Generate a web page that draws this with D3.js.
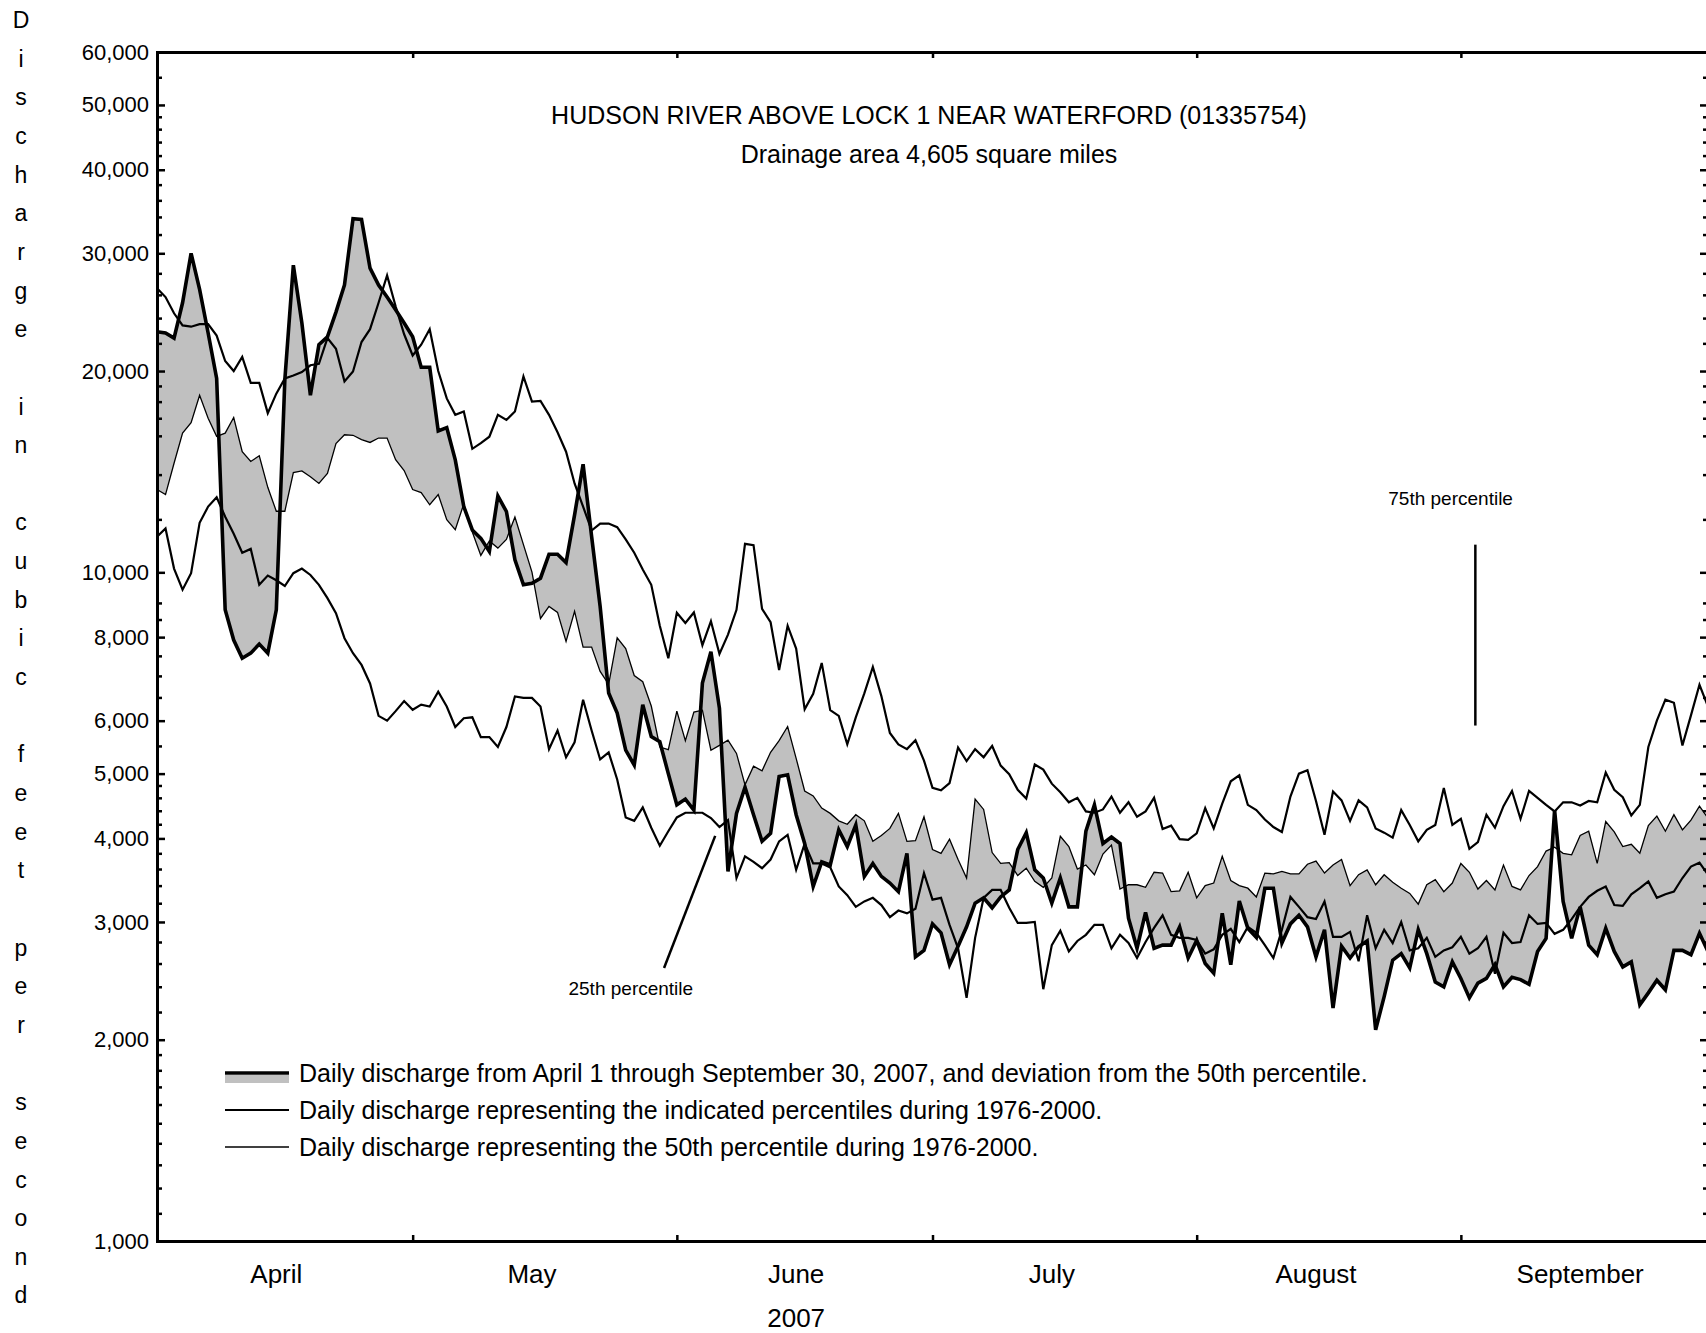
<!DOCTYPE html>
<html>
<head>
<meta charset="utf-8">
<script src="https://cdn.jsdelivr.net/npm/d3@7"></script>
<style>
    body { margin: 0; background: #fff; }
    text { font-family: "Liberation Sans", Arial, sans-serif; fill: #000; }
</style>
</head>
<body>
<div id="plot"></div>
<script>
// Daily discharge, cfs, April 1 - September 30 (183 days)
let q2007 = [
    22900, 22800, 22400, 25300, 30000, 26500, 22800, 19500, 8790, 7920,
    7440, 7570, 7810, 7570, 8790, 19400, 28800, 23600, 18400, 21900,
    22500, 24500, 26900, 33800, 33700, 28500, 26900, 25800, 24700, 23600,
    22500, 20260, 20260, 16270, 16460, 14730, 12540, 11570, 11240, 10740,
    13010, 12330, 10440, 9580, 9630, 9800, 10640, 10640, 10340, 12190,
    14510, 11310, 8890, 6600, 6160, 5420, 5150, 6340, 5680, 5580,
    5000, 4490, 4580, 4410, 6830, 7610, 6260, 3570, 4360, 4770,
    4340, 3960, 4070, 4950, 4980, 4340, 3930, 3390, 3690, 3650,
    4120, 3890, 4190, 3510, 3670, 3510, 3430, 3330, 3800, 2660,
    2720, 2980, 2890, 2590, 2760, 2950, 3200, 3260, 3150, 3270,
    3350, 3850, 4080, 3590, 3490, 3200, 3490, 3160, 3160, 4100,
    4490, 3930, 4020, 3930, 3040, 2740, 3100, 2740, 2770, 2770,
    2950, 2650, 2815, 2600, 2515, 3090, 2590, 3225, 2935, 2845,
    3370, 3370, 2790, 2980, 3070, 2950, 2660, 2920, 2230, 2760,
    2650, 2755, 2810, 2070, 2320, 2630, 2690, 2560, 2920, 2690,
    2440, 2400, 2615, 2470, 2310, 2430, 2470, 2590, 2400, 2480,
    2460, 2420, 2710, 2835, 4410, 3220, 2835, 3160, 2770, 2680,
    2935, 2710, 2570, 2615, 2255, 2350, 2455, 2375, 2720, 2720,
    2680, 2885, 2710
];

let q50 = [
    13300, 13070, 14560, 16150, 16740, 18400, 17000, 15970, 16150, 17040,
    15150, 14650, 14940, 13400, 12340, 12340, 14100, 14180, 13900, 13580,
    14060, 15580, 16060, 16030, 15790, 15640, 15880, 15880, 14740, 14200,
    13300, 13160, 12620, 13070, 11990, 11580, 12660, 11490, 10600, 11140,
    10870, 11200, 12100, 11000, 10010, 8530, 8890, 8710, 7880, 8740,
    7730, 7730, 7110, 6800, 7980, 7690, 7010, 6860, 6310, 5480,
    5430, 6200, 5600, 6180, 6220, 5420, 5510, 5610, 5360, 4810,
    5130, 5050, 5380, 5600, 5880, 5270, 4710, 4630, 4440, 4360,
    4250, 4200, 4340, 4250, 3960, 4040, 4140, 4360, 3960, 3970,
    4310, 3850, 3800, 3990, 3720, 3490, 4580, 4420, 3810, 3670,
    3680, 3520, 3610, 3450, 3380, 3490, 4030, 3890, 3600, 3650,
    3530, 3790, 3910, 3360, 3410, 3410, 3380, 3560, 3550, 3330,
    3340, 3560, 3260, 3400, 3430, 3760, 3460, 3400, 3370, 3270,
    3550, 3540, 3570, 3540, 3540, 3660, 3700, 3550, 3650, 3720,
    3400, 3530, 3590, 3410, 3530, 3440, 3370, 3310, 3190, 3410,
    3470, 3330, 3430, 3670, 3560, 3360, 3460, 3350, 3650, 3390,
    3350, 3520, 3630, 3830, 3880, 3800, 3780, 4040, 4100, 3670,
    4240, 4090, 3890, 3920, 3800, 4180, 4320, 4100, 4340, 4120,
    4260, 4470, 4290
];

let q75 = [
    26600, 25800, 24400, 23400, 23300, 23500, 23500, 22600, 20700, 20000,
    21000, 19200, 19200, 17300, 18500, 19500, 19700, 19930, 20400, 20500,
    22400, 21600, 19300, 19970, 22100, 23100, 25300, 27800, 25000, 22700,
    21100, 21900, 23100, 20000, 18200, 17200, 17400, 15300, 15600, 15950,
    17200, 16900, 17400, 19630, 18000, 18040, 17200, 16200, 15150, 13580,
    12540, 11550, 11830, 11830, 11680, 11200, 10700, 10100, 9580, 8320,
    7440, 8700, 8400, 8710, 7780, 8450, 7550, 8070, 8790, 11030,
    10980, 8820, 8420, 7140, 8320, 7690, 6240, 6580, 7320, 6220,
    6100, 5530, 6070, 6590, 7220, 6530, 5750, 5530, 5440, 5610,
    5230, 4760, 4720, 4840, 5470, 5220, 5440, 5290, 5500, 5140,
    4990, 4730, 4590, 5160, 5070, 4830, 4690, 4530, 4600, 4390,
    4370, 4420, 4620, 4370, 4530, 4310, 4390, 4600, 4130, 4180,
    3990, 3980, 4070, 4440, 4140, 4510, 4870, 4970, 4490, 4410,
    4270, 4160, 4090, 4620, 5000, 5060, 4550, 4050, 4700, 4560,
    4250, 4560, 4450, 4140, 4080, 4010, 4410, 4190, 3960, 4120,
    4190, 4760, 4190, 4280, 3860, 3950, 4340, 4150, 4470, 4710,
    4280, 4710, 4600, 4490, 4390, 4530, 4530, 4480, 4550, 4530,
    5020, 4730, 4610, 4330, 4490, 5480, 6000, 6450, 6380, 5510,
    6110, 6790, 6300
];

let q25 = [
    11300, 11630, 10130, 9420, 9970, 11860, 12540, 12950, 12110, 11420,
    10700, 10840, 9580, 9890, 9730, 9540, 9970, 10130, 9910, 9580,
    9150, 8690, 7970, 7570, 7270, 6820, 6100, 6000, 6200, 6420,
    6230, 6340, 6300, 6630, 6300, 5870, 6050, 6070, 5670, 5670,
    5480, 5870, 6520, 6490, 6490, 6300, 5440, 5800, 5290, 5570,
    6450, 5800, 5250, 5380, 4900, 4300, 4250, 4450, 4150, 3900,
    4100, 4300, 4370, 4370, 4370, 4290, 4160, 4260, 3490, 3760,
    3690, 3610, 3720, 3960, 4050, 3590, 3930, 3670, 3670, 3620,
    3390, 3290, 3160, 3220, 3260, 3180, 3050, 3120, 3090, 3140,
    3550, 3240, 3260, 2970, 2740, 2310, 2840, 3260, 3350, 3350,
    3150, 2990, 2990, 3000, 2380, 2770, 2910, 2710, 2810, 2870,
    2970, 2970, 2740, 2870, 2790, 2650, 2800, 2940, 3070, 2870,
    2840, 2840, 2820, 2690, 2730, 2870, 2930, 2800, 2950, 2890,
    2770, 2650, 2920, 3270, 3160, 3050, 3030, 3220, 2850, 2850,
    2900, 2620, 3070, 2740, 2920, 2790, 3000, 2720, 2740, 2840,
    2660, 2720, 2750, 2850, 2690, 2740, 2850, 2510, 2890, 2790,
    2800, 3070, 2980, 2990, 2880, 2920, 3030, 3160, 3270, 3340,
    3390, 3180, 3170, 3300, 3370, 3450, 3260, 3300, 3330, 3490,
    3630, 3680, 3530
];

let monthNames = ['April', 'May', 'June', 'July', 'August', 'September'];
let yTickLabels = [1000, 2000, 3000, 4000, 5000, 6000, 8000, 10000, 20000, 30000, 40000, 50000, 60000];
let yMinorTicks = [1100, 1200, 1300, 1400, 1500, 1600, 1700, 1800, 1900,
    2200, 2400, 2600, 2800, 3200, 3400, 3600, 3800, 4200, 4400, 4600, 4800,
    5500, 6500, 7000, 7500, 8500, 9000, 12000, 14000, 16000, 17000, 18000, 19000,
    22000, 24000, 26000, 28000, 32000, 34000, 36000, 38000,
    42000, 44000, 46000, 48000, 55000];

let titleText = 'HUDSON RIVER ABOVE LOCK 1 NEAR WATERFORD (01335754)';
let subtitleText = 'Drainage area 4,605 square miles';
let yTitle = 'Discharge in cubic feet per second';
let legendLabels = [
    'Daily discharge from April 1 through September 30, 2007, and deviation from the 50th percentile.',
    'Daily discharge representing the indicated percentiles during 1976-2000.',
    'Daily discharge representing the 50th percentile during 1976-2000.'
];

let svgWidth = 1706;
let svgHeight = 1333;
let plot = { left: 157, right: 1708, top: 52, bottom: 1241 };

let startDate = new Date(2007, 3, 1);
let dayOf = d => d3.timeDay.count(startDate, d);

let $svg = d3.select('#plot')
    .append('svg')
    .attr('width', svgWidth)
    .attr('height', svgHeight)
    .style('background', '#fff');

// Scales: day index on x, log discharge on y
let xScale = d3.scaleLinear()
    .domain([0, q2007.length - 1])
    .range([plot.left, plot.right]);

let yScale = d3.scaleLog()
    .domain([1000, 60000])
    .range([plot.bottom, plot.top]);

let days = d3.range(q2007.length);

// Gray deviation band between 2007 flow and the median
let band = d3.area()
    .x(i => xScale(i))
    .y0(i => yScale(q50[i]))
    .y1(i => yScale(q2007[i]));

$svg.append('path')
    .datum(days)
    .attr('d', band)
    .attr('fill', '#c0c0c0');

let lineFor = series => d3.line()
    .x(i => xScale(i))
    .y(i => yScale(series[i]));

let seriesStyles = [
    { data: q50, width: 1.3 },
    { data: q25, width: 2.2 },
    { data: q75, width: 2.2 },
    { data: q2007, width: 3.6 }
];

seriesStyles.forEach(s => {
    $svg.append('path')
        .datum(days)
        .attr('d', lineFor(s.data))
        .attr('fill', 'none')
        .attr('stroke', '#000')
        .attr('stroke-width', s.width);
});

// Axes
let monthStarts = d3.timeMonth.range(new Date(2007, 4, 1), new Date(2007, 8, 2)).map(dayOf);
let monthMids = monthNames.map((m, k) => dayOf(new Date(2007, 3 + k, 15)));

function styleAxis(g) {
    g.select('.domain').attr('stroke-width', 3).attr('stroke-linecap', 'square');
    g.selectAll('.tick line').attr('stroke-width', 2.5);
    g.attr('font-family', '"Liberation Sans", Arial, sans-serif');
}

$svg.append('g')
    .attr('transform', `translate(${plot.left}, 0)`)
    .call(d3.axisLeft(yScale).tickValues(yTickLabels).tickSize(-8).tickSizeOuter(0)
        .tickPadding(8).tickFormat(d3.format(',')))
    .call(styleAxis)
    .attr('font-size', 22);

$svg.append('g')
    .attr('transform', `translate(${plot.left}, 0)`)
    .call(d3.axisLeft(yScale).tickValues(yMinorTicks).tickSize(-5).tickSizeOuter(0).tickFormat(''))
    .call(g => g.select('.domain').remove())
    .call(g => g.selectAll('.tick line').attr('stroke-width', 2.5));

$svg.append('g')
    .attr('transform', `translate(${plot.right}, 0)`)
    .call(d3.axisRight(yScale).tickValues(yTickLabels).tickSize(-8).tickSizeOuter(0).tickFormat(''))
    .call(styleAxis);

$svg.append('g')
    .attr('transform', `translate(${plot.right}, 0)`)
    .call(d3.axisRight(yScale).tickValues(yMinorTicks).tickSize(-5).tickSizeOuter(0).tickFormat(''))
    .call(g => g.select('.domain').remove())
    .call(g => g.selectAll('.tick line').attr('stroke-width', 2.5));

$svg.append('g')
    .attr('transform', `translate(0, ${plot.bottom})`)
    .call(d3.axisBottom(xScale).tickValues(monthStarts).tickSize(-6).tickSizeOuter(0).tickFormat(''))
    .call(styleAxis);

$svg.append('g')
    .attr('transform', `translate(0, ${plot.top})`)
    .call(d3.axisTop(xScale).tickValues(monthStarts).tickSize(-6).tickSizeOuter(0).tickFormat(''))
    .call(styleAxis);

// Month labels
$svg.append('g')
    .selectAll('text')
    .data(monthNames)
    .join('text')
    .attr('x', (d, k) => xScale(monthMids[k]))
    .attr('y', 1283)
    .attr('text-anchor', 'middle')
    .attr('font-size', 26)
    .text(d => d);

$svg.append('text')
    .attr('x', xScale(dayOf(new Date(2007, 5, 15))))
    .attr('y', 1327)
    .attr('text-anchor', 'middle')
    .attr('font-size', 26)
    .text('2007');

// Y axis title, one letter per line
$svg.append('g')
    .selectAll('text')
    .data(yTitle.split(''))
    .join('text')
    .attr('x', 21)
    .attr('y', (d, k) => 28 + k * 38.65)
    .attr('text-anchor', 'middle')
    .attr('font-size', 23)
    .text(d => d);

// Titles
$svg.append('text')
    .attr('x', 929)
    .attr('y', 124)
    .attr('text-anchor', 'middle')
    .attr('font-size', 25)
    .text(titleText);

$svg.append('text')
    .attr('x', 929)
    .attr('y', 163)
    .attr('text-anchor', 'middle')
    .attr('font-size', 25)
    .text(subtitleText);

// Percentile call-outs
$svg.append('text')
    .attr('x', xScale(151.8))
    .attr('y', yScale(12610))
    .attr('text-anchor', 'middle')
    .attr('font-size', 19)
    .text('75th percentile');

$svg.append('line')
    .attr('x1', xScale(154.7)).attr('y1', yScale(11000))
    .attr('x2', xScale(154.7)).attr('y2', yScale(5900))
    .attr('stroke', '#000').attr('stroke-width', 2.5);

$svg.append('text')
    .attr('x', xScale(55.6))
    .attr('y', yScale(2333))
    .attr('text-anchor', 'middle')
    .attr('font-size', 19)
    .text('25th percentile');

$svg.append('line')
    .attr('x1', xScale(59.5)).attr('y1', yScale(2560))
    .attr('x2', xScale(65.5)).attr('y2', yScale(4035))
    .attr('stroke', '#000').attr('stroke-width', 2.5);

// Legend
let legend = $svg.append('g').attr('transform', 'translate(225, 1073)');

legend.append('rect')
    .attr('x', 0).attr('y', 2)
    .attr('width', 64).attr('height', 8)
    .attr('fill', '#c0c0c0');

let legendWidths = [3.6, 2.2, 1.3];
legendLabels.forEach((label, k) => {
    legend.append('line')
        .attr('x1', 0).attr('x2', 64)
        .attr('y1', k * 37).attr('y2', k * 37)
        .attr('stroke', '#000')
        .attr('stroke-width', legendWidths[k]);
    legend.append('text')
        .attr('x', 74)
        .attr('y', k * 37 + 9)
        .attr('font-size', 25)
        .text(label);
});
</script>
</body>
</html>
